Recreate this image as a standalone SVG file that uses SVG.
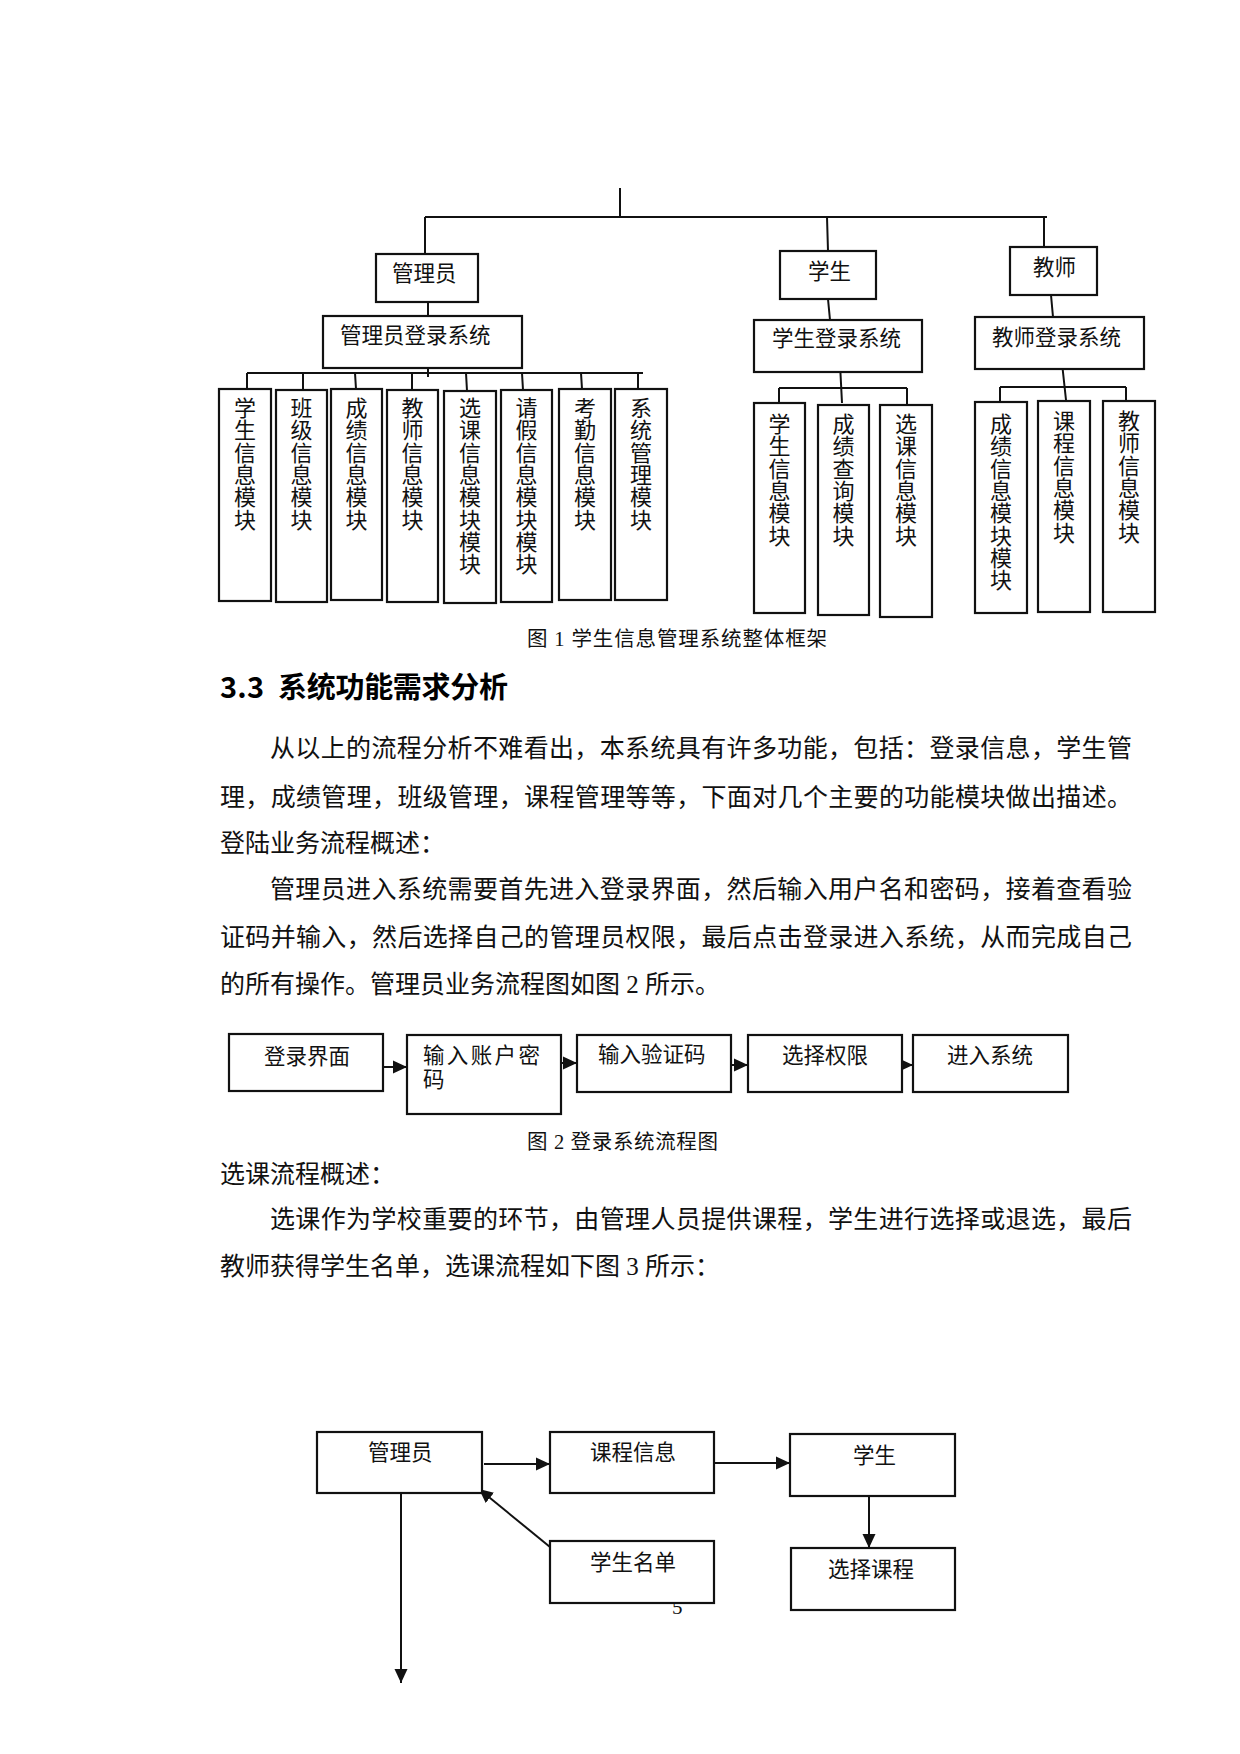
<svg xmlns="http://www.w3.org/2000/svg" width="1240" height="1754" viewBox="0 0 1240 1754">
<defs>
<style>
.bx{fill:#fff;stroke:#111;stroke-width:2.2}
.ln{fill:none;stroke:#111;stroke-width:2}
.lb{font-family:"Liberation Serif","Noto Sans CJK SC",serif;font-size:21.5px;fill:#111}
.md{font-family:"Liberation Serif","Noto Sans CJK SC",serif;font-size:22px;fill:#111;text-anchor:middle}
.bd{font-family:"Liberation Serif","Noto Sans CJK SC",serif;font-size:25px;fill:#111}
.cp{font-family:"Liberation Serif","Noto Sans CJK SC",serif;font-size:20.5px;fill:#111}
.hd{font-family:"Noto Sans CJK SC",sans-serif;font-size:29px;font-weight:bold;fill:#000}
</style>
<marker id="arr" viewBox="0 0 14 14" refX="14" refY="7" markerWidth="14" markerHeight="14" markerUnits="userSpaceOnUse" orient="auto"><path d="M0,0.5 L14,7 L0,13.5 z" fill="#111"/></marker>
</defs>
<rect width="1240" height="1754" fill="#fff"/>

<!-- Figure 1 connectors -->
<g id="connectors-fig1">
<path class="ln" d="M620,188 V217 M425,217 H1047 M425,217 V254 M827,217 L828,251 M1044,217 V247"/>
<path class="ln" d="M428,302 V316 M828,299 L830,320 M1051,295 L1053,317"/>
<path class="ln" d="M428,363 V377 M247,373 H643"/>
<path class="ln" d="M247,373 V389 M303,373 V390 M355,373 L356,389 M412,373 V390 M466,373 L467,391 M522,373 L523,390 M581,373 L582,389 M638,373 V389"/>
<path class="ln" d="M840,364 L842,403 M779,388 H907 M779,388 V403 M907,388 V405"/>
<path class="ln" d="M1062,363 L1066,400 M1000,387 H1126 M1000,387 V402 M1126,387 V402"/>
</g>

<g id="node-admin"><rect class="bx" x="376" y="254" width="102" height="48"/><text class="lb" x="392" y="281">管理员</text></g>
<g id="node-admin-login"><rect class="bx" x="323" y="316" width="199" height="52"/><text class="lb" x="340" y="343">管理员登录系统</text></g>
<g id="node-student"><rect class="bx" x="780" y="251" width="96" height="48"/><text class="lb" x="808" y="279">学生</text></g>
<g id="node-student-login"><rect class="bx" x="754" y="320" width="168" height="52"/><text class="lb" x="772" y="346">学生登录系统</text></g>
<g id="node-teacher"><rect class="bx" x="1010" y="247" width="87" height="48"/><text class="lb" x="1033" y="275">教师</text></g>
<g id="node-teacher-login"><rect class="bx" x="975" y="317" width="169" height="52"/><text class="lb" x="992" y="345">教师登录系统</text></g>

<g id="node-a1"><rect class="bx" x="219" y="389" width="52" height="212"/><text class="md"><tspan x="245" y="416">学</tspan><tspan x="245" y="438.3">生</tspan><tspan x="245" y="460.6">信</tspan><tspan x="245" y="482.9">息</tspan><tspan x="245" y="505.2">模</tspan><tspan x="245" y="527.5">块</tspan></text></g>
<g id="node-a2"><rect class="bx" x="276" y="390" width="51" height="212"/><text class="md"><tspan x="301.5" y="416">班</tspan><tspan x="301.5" y="438.3">级</tspan><tspan x="301.5" y="460.6">信</tspan><tspan x="301.5" y="482.9">息</tspan><tspan x="301.5" y="505.2">模</tspan><tspan x="301.5" y="527.5">块</tspan></text></g>
<g id="node-a3"><rect class="bx" x="331" y="389" width="51" height="211"/><text class="md"><tspan x="356.5" y="416">成</tspan><tspan x="356.5" y="438.3">绩</tspan><tspan x="356.5" y="460.6">信</tspan><tspan x="356.5" y="482.9">息</tspan><tspan x="356.5" y="505.2">模</tspan><tspan x="356.5" y="527.5">块</tspan></text></g>
<g id="node-a4"><rect class="bx" x="387" y="390" width="51" height="212"/><text class="md"><tspan x="412.5" y="416">教</tspan><tspan x="412.5" y="438.3">师</tspan><tspan x="412.5" y="460.6">信</tspan><tspan x="412.5" y="482.9">息</tspan><tspan x="412.5" y="505.2">模</tspan><tspan x="412.5" y="527.5">块</tspan></text></g>
<g id="node-a5"><rect class="bx" x="444" y="391" width="52" height="212"/><text class="md"><tspan x="470" y="416">选</tspan><tspan x="470" y="438.3">课</tspan><tspan x="470" y="460.6">信</tspan><tspan x="470" y="482.9">息</tspan><tspan x="470" y="505.2">模</tspan><tspan x="470" y="527.5">块</tspan><tspan x="470" y="549.8">模</tspan><tspan x="470" y="572.1">块</tspan></text></g>
<g id="node-a6"><rect class="bx" x="501" y="390" width="51" height="212"/><text class="md"><tspan x="526.5" y="416">请</tspan><tspan x="526.5" y="438.3">假</tspan><tspan x="526.5" y="460.6">信</tspan><tspan x="526.5" y="482.9">息</tspan><tspan x="526.5" y="505.2">模</tspan><tspan x="526.5" y="527.5">块</tspan><tspan x="526.5" y="549.8">模</tspan><tspan x="526.5" y="572.1">块</tspan></text></g>
<g id="node-a7"><rect class="bx" x="559" y="389" width="52" height="211"/><text class="md"><tspan x="585" y="416">考</tspan><tspan x="585" y="438.3">勤</tspan><tspan x="585" y="460.6">信</tspan><tspan x="585" y="482.9">息</tspan><tspan x="585" y="505.2">模</tspan><tspan x="585" y="527.5">块</tspan></text></g>
<g id="node-a8"><rect class="bx" x="615" y="389" width="52" height="211"/><text class="md"><tspan x="641" y="416">系</tspan><tspan x="641" y="438.3">统</tspan><tspan x="641" y="460.6">管</tspan><tspan x="641" y="482.9">理</tspan><tspan x="641" y="505.2">模</tspan><tspan x="641" y="527.5">块</tspan></text></g>

<g id="node-s1"><rect class="bx" x="754" y="403" width="51" height="210"/><text class="md"><tspan x="779.5" y="432">学</tspan><tspan x="779.5" y="454.3">生</tspan><tspan x="779.5" y="476.6">信</tspan><tspan x="779.5" y="498.9">息</tspan><tspan x="779.5" y="521.2">模</tspan><tspan x="779.5" y="543.5">块</tspan></text></g>
<g id="node-s2"><rect class="bx" x="818" y="405" width="51" height="210"/><text class="md"><tspan x="843.5" y="432">成</tspan><tspan x="843.5" y="454.3">绩</tspan><tspan x="843.5" y="476.6">查</tspan><tspan x="843.5" y="498.9">询</tspan><tspan x="843.5" y="521.2">模</tspan><tspan x="843.5" y="543.5">块</tspan></text></g>
<g id="node-s3"><rect class="bx" x="880" y="405" width="52" height="212"/><text class="md"><tspan x="906" y="432">选</tspan><tspan x="906" y="454.3">课</tspan><tspan x="906" y="476.6">信</tspan><tspan x="906" y="498.9">息</tspan><tspan x="906" y="521.2">模</tspan><tspan x="906" y="543.5">块</tspan></text></g>

<g id="node-t1"><rect class="bx" x="975" y="402" width="52" height="211"/><text class="md"><tspan x="1001" y="432">成</tspan><tspan x="1001" y="454.3">绩</tspan><tspan x="1001" y="476.6">信</tspan><tspan x="1001" y="498.9">息</tspan><tspan x="1001" y="521.2">模</tspan><tspan x="1001" y="543.5">块</tspan><tspan x="1001" y="565.8">模</tspan><tspan x="1001" y="588.1">块</tspan></text></g>
<g id="node-t2"><rect class="bx" x="1038" y="401" width="52" height="211"/><text class="md"><tspan x="1064" y="429">课</tspan><tspan x="1064" y="451.3">程</tspan><tspan x="1064" y="473.6">信</tspan><tspan x="1064" y="495.9">息</tspan><tspan x="1064" y="518.2">模</tspan><tspan x="1064" y="540.5">块</tspan></text></g>
<g id="node-t3"><rect class="bx" x="1103" y="401" width="52" height="211"/><text class="md"><tspan x="1129" y="429">教</tspan><tspan x="1129" y="451.3">师</tspan><tspan x="1129" y="473.6">信</tspan><tspan x="1129" y="495.9">息</tspan><tspan x="1129" y="518.2">模</tspan><tspan x="1129" y="540.5">块</tspan></text></g>

<text class="cp" x="527" y="646" textLength="300" lengthAdjust="spacing">图 1 学生信息管理系统整体框架</text>

<text class="hd" x="220" y="698" textLength="44" lengthAdjust="spacing">3.3</text>
<text class="hd" x="278" y="698" textLength="230" lengthAdjust="spacing">系统功能需求分析</text>

<text class="bd" x="270" y="757" textLength="862" lengthAdjust="spacing">从以上的流程分析不难看出，本系统具有许多功能，包括：登录信息，学生管</text>
<text class="bd" x="220" y="806" textLength="912" lengthAdjust="spacing">理，成绩管理，班级管理，课程管理等等，下面对几个主要的功能模块做出描述。</text>
<text class="bd" x="220" y="852">登陆业务流程概述：</text>
<text class="bd" x="270" y="898" textLength="862" lengthAdjust="spacing">管理员进入系统需要首先进入登录界面，然后输入用户名和密码，接着查看验</text>
<text class="bd" x="220" y="946" textLength="912" lengthAdjust="spacing">证码并输入，然后选择自己的管理员权限，最后点击登录进入系统，从而完成自己</text>
<text class="bd" x="220" y="993">的所有操作。管理员业务流程图如图 2 所示。</text>

<!-- Figure 2 -->
<g id="connectors-fig2">
<path class="ln" d="M383,1067 H407" marker-end="url(#arr)"/>
<path class="ln" d="M561,1063 H577" marker-end="url(#arr)"/>
<path class="ln" d="M731,1065 H748" marker-end="url(#arr)"/>
<path class="ln" d="M900,1065 H913" marker-end="url(#arr)"/>
</g>
<g id="node-f2-1"><rect class="bx" x="229" y="1034" width="154" height="57"/><text class="lb" x="264" y="1064">登录界面</text></g>
<g id="node-f2-2"><rect class="bx" x="407" y="1035" width="154" height="79"/><text class="lb" x="423" y="1063" textLength="117" lengthAdjust="spacing">输入账户密</text><text class="lb" x="423" y="1087">码</text></g>
<g id="node-f2-3"><rect class="bx" x="577" y="1035" width="154" height="57"/><text class="lb" x="598" y="1062">输入验证码</text></g>
<g id="node-f2-4"><rect class="bx" x="748" y="1035" width="154" height="57"/><text class="lb" x="782" y="1063">选择权限</text></g>
<g id="node-f2-5"><rect class="bx" x="913" y="1035" width="155" height="57"/><text class="lb" x="947" y="1063">进入系统</text></g>

<text class="cp" x="527" y="1149" textLength="191" lengthAdjust="spacing">图 2 登录系统流程图</text>

<text class="bd" x="220" y="1183">选课流程概述：</text>
<text class="bd" x="270" y="1228" textLength="862" lengthAdjust="spacing">选课作为学校重要的环节，由管理人员提供课程，学生进行选择或退选，最后</text>
<text class="bd" x="220" y="1275">教师获得学生名单，选课流程如下图 3 所示：</text>

<!-- page number -->
<text x="672" y="1614" style="font-family:'Liberation Serif',serif;font-size:21px;fill:#111">5</text>

<!-- Figure 3 -->
<g id="connectors-fig3">
<path class="ln" d="M484,1464 H550" marker-end="url(#arr)"/>
<path class="ln" d="M714,1463 H790" marker-end="url(#arr)"/>
<path class="ln" d="M869,1496 V1548" marker-end="url(#arr)"/>
<path class="ln" d="M401,1493 V1683" marker-end="url(#arr)"/>
<path class="ln" d="M550,1547 L479,1489" marker-end="url(#arr)"/>
</g>
<g id="node-f3-admin"><rect class="bx" x="317" y="1432" width="165" height="61"/><text class="lb" x="368" y="1460">管理员</text></g>
<g id="node-f3-course"><rect class="bx" x="550" y="1432" width="164" height="61"/><text class="lb" x="590" y="1460">课程信息</text></g>
<g id="node-f3-student"><rect class="bx" x="790" y="1434" width="165" height="62"/><text class="lb" x="853" y="1463">学生</text></g>
<g id="node-f3-list"><rect class="bx" x="550" y="1541" width="164" height="62"/><text class="lb" x="590" y="1570">学生名单</text></g>
<g id="node-f3-select"><rect class="bx" x="791" y="1548" width="164" height="62"/><text class="lb" x="828" y="1577">选择课程</text></g>
</svg>
